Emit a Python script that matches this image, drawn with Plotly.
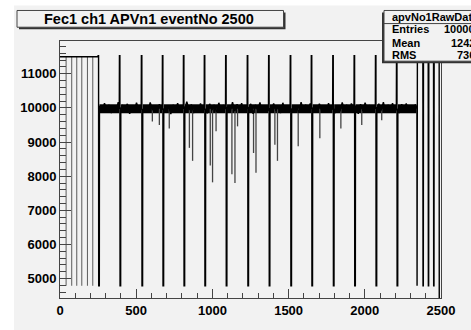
import plotly.graph_objects as go

# ---------------- data ----------------
x_range = [0, 2500]
y_range = [4432, 11960]

header_level = 11500
tick_top = 11530
low_level = 4790
baseline = 9975

header_dips = [40, 77, 110, 143, 180, 215]
tick_centers = [254, 394, 538, 676, 814, 951, 1091, 1233, 1373, 1515,
                1653, 1794, 1934, 2074, 2212]
trailer_start = 2344
trailer_dips = [2382, 2417, 2452]
final_drop = 2489

noise_start = 262
noise_step = 15
band_noise = [60, -90, 140, -60, 90, -150, 40, -80, 170, -110, 70, -40, 120, -170, 50, -90, 150, -60, 100, -130,
              30, -100, 160, -70, 80, -140, 110, -50, 130, -120, 60, -180, 90, -70, 140, -100, 50, -90, 180, -60,
              100, -150, 70, -110, 130, -80, 40, -160, 120, -70, 90, -130, 150, -50, 80, -120, 60, -100, 170, -90,
              110, -60, 140, -140, 50, -80, 120, -170, 90, -60, 160, -110, 70, -130, 100, -50, 130, -90, 60, -150,
              150, -70, 80, -120, 110, -100, 40, -140, 170, -80, 90, -60, 130, -160, 70, -110, 120, -90, 60, -130,
              140, -70, 100, -150, 50, -100, 160, -80, 90, -120, 130, -60, 70, -170, 110, -90, 150, -50, 80, -140,
              60, -110, 120, -80, 170, -130, 90, -60, 140, -100, 50, -150, 110, -70, 130, -90, 80, -120, 100, -60]

whisker_x = [606, 652, 717, 849, 870, 986, 1001, 1024, 1128, 1148, 1165, 1270, 1286,
             1410, 1427, 1563, 1705, 1843, 1980, 2111]
whisker_y = [9600, 9500, 9400, 8830, 8450, 8310, 7820, 9320, 8060, 7800, 9460, 8680, 8100,
             8920, 8450, 8880, 9110, 9400, 9500, 9640]

title_text = "Fec1 ch1 APVn1 eventNo 2500"
stats_name = "apvNo1RawData"
stats_labels = ["Entries", "Mean", "RMS"]
stats_values = ["10000", "1242", "736"]

x_ticks_major = 500
x_ticks_minor = 100
y_ticks_major = 1000
y_ticks_minor = 200

# ---------------- build main trace ----------------
pts = [(0, header_level), (tick_centers[0] - 5, header_level)]
for k, c in enumerate(tick_centers):
    if k > 0:
        pts.append((c - 5, baseline))
    pts += [(c - 4, tick_top), (c - 1, tick_top), (c, low_level), (c + 4, low_level), (c + 5, baseline)]
for i, v in enumerate(band_noise):
    xx = noise_start + i * noise_step
    if xx > trailer_start - 4:
        continue
    if any(abs(xx - c) < 8 for c in tick_centers):
        continue
    pts.append((xx, 10000 + v))
pts += [(trailer_start - 2, baseline), (trailer_start - 1, low_level), (trailer_start + 1, header_level)]
for d in trailer_dips:
    pts += [(d - 1, header_level), (d, low_level), (d + 2, low_level), (d + 3, header_level)]
pts += [(final_drop - 1, header_level), (final_drop, 0), (2500, 0)]
pts.sort(key=lambda p: p[0])
main_x = [p[0] for p in pts]
main_y = [p[1] for p in pts]

# thick noise band
band_x, band_y = [], []
edges = tick_centers + [trailer_start]
for a, b in zip(edges[:-1], edges[1:]):
    band_x += [a + 5, b - 5, None]
    band_y += [baseline, baseline, None]

# thin grey lines: header dips and downward whiskers
thin_x, thin_y = [], []
for d in header_dips:
    thin_x += [d, d, None]
    thin_y += [header_level, low_level, None]
whisk_x, whisk_y = [], []
for wx, wy in zip(whisker_x, whisker_y):
    whisk_x += [wx, wx, None]
    whisk_y += [baseline, wy, None]

fig = go.Figure()
fig.add_trace(go.Scatter(x=band_x, y=band_y, mode="lines",
                         line=dict(color="black", width=9, simplify=False), hoverinfo="skip"))
fig.add_trace(go.Scatter(x=thin_x, y=thin_y, mode="lines",
                         line=dict(color="#5a5a5a", width=1, simplify=False), hoverinfo="skip"))
fig.add_trace(go.Scatter(x=whisk_x, y=whisk_y, mode="lines",
                         line=dict(color="#444444", width=1.3, simplify=False), hoverinfo="skip"))
fig.add_trace(go.Scatter(x=main_x, y=main_y, mode="lines",
                         line=dict(color="black", width=1.4, simplify=False), hoverinfo="skip"))

# ---------------- layout ----------------
W, H = 471, 330
L, R, T, B = 60, 30, 41, 28
PW, PH = W - L - R, H - T - B


def fx(px):
    return (px - L) / PW


def fy(py):
    return (H - B - py) / PH


BG = "#f2f2f2"
FONT = "Liberation Sans"

shapes = [
    dict(type="rect", xref="paper", yref="paper", x0=fx(14), x1=fx(480), y0=fy(340), y1=fy(5),
         fillcolor=BG, line=dict(width=0), layer="below"),
    dict(type="rect", xref="paper", yref="paper", x0=fx(19), x1=fx(285.5), y0=fy(29), y1=fy(12),
         fillcolor="#333333", line=dict(width=0)),
    dict(type="rect", xref="paper", yref="paper", x0=fx(17), x1=fx(283.5), y0=fy(27), y1=fy(10),
         fillcolor=BG, line=dict(color="#444444", width=1)),
    dict(type="rect", xref="paper", yref="paper", x0=fx(382), x1=fx(480), y0=fy(63.5), y1=fy(12),
         fillcolor="#333333", line=dict(width=0)),
    dict(type="rect", xref="paper", yref="paper", x0=fx(384), x1=fx(482), y0=fy(61.5), y1=fy(10),
         fillcolor=BG, line=dict(color="#444444", width=1)),
    dict(type="line", xref="paper", yref="paper", x0=fx(384), x1=fx(482), y0=fy(23.3), y1=fy(23.3),
         line=dict(color="#444444", width=1)),
]

annotations = [
    dict(text=title_text, xref="paper", yref="paper", x=fx(148.5), y=fy(18.5),
         xanchor="center", yanchor="middle", showarrow=False,
         font=dict(family=FONT, size=14.5, color="black", weight="bold")),
    dict(text=stats_name, xref="paper", yref="paper", x=fx(390), y=fy(16.3),
         xanchor="left", yanchor="middle", showarrow=False,
         font=dict(family=FONT, size=11, color="black", weight="bold")),
]
row_y = [29.3, 43.0, 55.7]
for lab, val, ry in zip(stats_labels, stats_values, row_y):
    annotations.append(dict(text=lab, xref="paper", yref="paper", x=fx(390), y=fy(ry),
                            xanchor="left", yanchor="middle", showarrow=False,
                            font=dict(family=FONT, size=11, color="black", weight="bold")))
    annotations.append(dict(text=val, xref="paper", yref="paper", x=fx(477), y=fy(ry),
                            xanchor="right", yanchor="middle", showarrow=False,
                            font=dict(family=FONT, size=11, color="black", weight="bold")))

axis_common = dict(showgrid=False, zeroline=False, showline=True, mirror=True,
                   linecolor="#444444", linewidth=1, ticks="inside", tickcolor="#444444",
                   tickwidth=1, tickformat="d",
                   tickfont=dict(family=FONT, size=13, color="black", weight="bold"))

fig.update_layout(
    width=W, height=H,
    margin=dict(l=L, r=R, t=T, b=B, pad=0),
    paper_bgcolor="white", plot_bgcolor=BG,
    showlegend=False, hovermode=False,
    shapes=shapes, annotations=annotations,
    xaxis=dict(range=x_range, dtick=x_ticks_major, tick0=0, ticklen=9,
               minor=dict(dtick=x_ticks_minor, ticks="inside", ticklen=5, tickcolor="#444444"),
               **axis_common),
    yaxis=dict(range=y_range, dtick=y_ticks_major, tick0=0, ticklen=11,
               minor=dict(dtick=y_ticks_minor, ticks="inside", ticklen=6, tickcolor="#444444"),
               **axis_common),
)

fig.write_html("out.html", config=dict(displayModeBar=False, staticPlot=True))
